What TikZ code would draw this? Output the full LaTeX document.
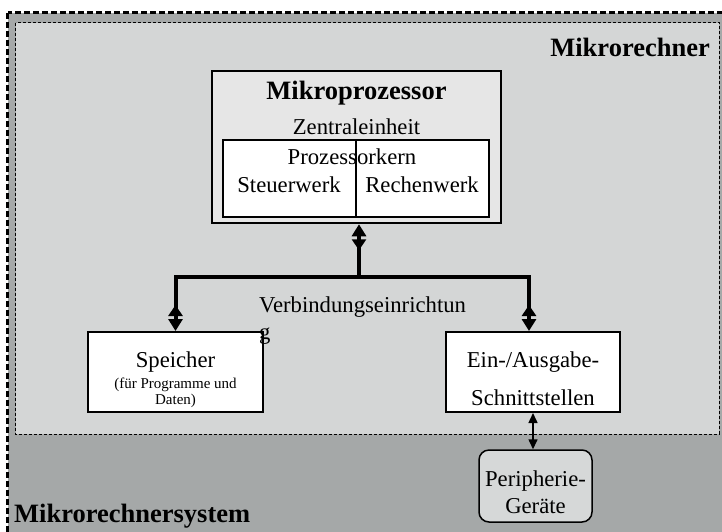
\documentclass[tikz,border=0pt]{standalone}
\usepackage{fontspec}
\setmainfont{Liberation Serif}
\usetikzlibrary{arrows.meta}
\definecolor{sysgray}{HTML}{A5A8A8}
\definecolor{mcgray}{HTML}{D4D6D6}
\definecolor{cpugray}{HTML}{E6E6E6}
\definecolor{perigray}{HTML}{D6D8D8}

\begin{document}
\begin{tikzpicture}[x=1pt,y=-1pt,
  txt/.style={font=\fontsize{22.7}{27}\selectfont, inner sep=0pt},
  ttl/.style={font=\fontsize{26.5}{31}\selectfont\bfseries, inner sep=0pt},
  smalltxt/.style={font=\fontsize{15}{17}\selectfont, inner sep=0pt},
  box/.style={draw, line width=2pt, fill=white, inner sep=0pt},
  bus/.style={line width=4pt},
  busarrow/.style={-{Triangle[reversed,width=14pt,length=11pt,sep=3pt]Triangle[width=14pt,length=12pt]}},
  thinarrow/.style={line width=1.5pt,
    {Triangle[width=9pt,length=10pt]}-{Triangle[width=9pt,length=10pt]}}
]
\useasboundingbox (0,0) rectangle (722,531);
\clip (0,0) rectangle (722,531);

% microcomputer system (outer area) and microcomputer (inner area)
\draw[fill=sysgray, line width=2.5pt, dash pattern=on 6pt off 3pt]
  (7.5,12.5) rectangle (745,555);
\draw[fill=mcgray, line width=1pt, dash pattern=on 3pt off 2pt]
  (15.5,22.5) rectangle (719,434);

\node[ttl, anchor=base east] (mclabel) at (710,56) {Mikrorechner};
\node[ttl, anchor=base west] (syslabel) at (14,522) {Mikrorechnersystem};

% microprocessor with its core
\node[box, line width=2.5pt, fill=cpugray, minimum width=289pt, minimum height=152pt]
  (mp) at (356.5,147) {};
\node[ttl, anchor=base] (mptitle) at (356.5,99) {Mikroprozessor};
\node[txt, anchor=base] (cpu) at (356.5,134) {Zentraleinheit};
\node[box, minimum width=266pt, minimum height=77pt] (core) at (356,178.5) {};
\draw[line width=2pt] (core.north) -- (core.south);
\node[txt, anchor=base] (corelabel) at (352,164) {Prozessorkern};
\node[txt, anchor=base] (cu) at (289,192) {Steuerwerk};
\node[txt, anchor=base] (alu) at (422,192) {Rechenwerk};

% memory and I/O
\node[box, minimum width=175pt, minimum height=80pt] (sp) at (175.5,372) {};
\node[txt, anchor=base] (splabel) at (175.5,367) {Speicher};
\node[smalltxt, anchor=base] (spnote1) at (175.5,388) {(für Programme und};
\node[smalltxt, anchor=base] (spnote2) at (175.5,404) {Daten)};

\node[box, minimum width=174pt, minimum height=80pt] (io) at (533,372) {};
\node[txt, anchor=base] (iolabel1) at (533,367) {Ein-/Ausgabe-};
\node[txt, anchor=base] (iolabel2) at (533,405) {Schnittstellen};

% peripheral devices
\node[draw, line width=1.5pt, fill=perigray, rounded corners=10pt,
  minimum width=113pt, minimum height=72pt] (per) at (535.5,486) {};
\node[txt, anchor=base] (perlabel1) at (535.5,486) {Peripherie-};
\node[txt, anchor=base] (perlabel2) at (535.5,513) {Geräte};

% system bus
\coordinate (busmid) at (359,277);
\draw[bus, busarrow] (busmid) -- (busmid |- mp.south);
\draw[bus, busarrow] (busmid) -| (sp.north);
\draw[bus, busarrow] (busmid) -| ([xshift=-4pt]io.north);
\node[txt, anchor=base west] (buslabel1) at (259,312) {Verbindungseinrichtun};
\node[txt, anchor=base west] (buslabel2) at (259,339) {g};

\draw[thinarrow] (io.south) -- (io.south |- per.north);
\end{tikzpicture}
\end{document}
